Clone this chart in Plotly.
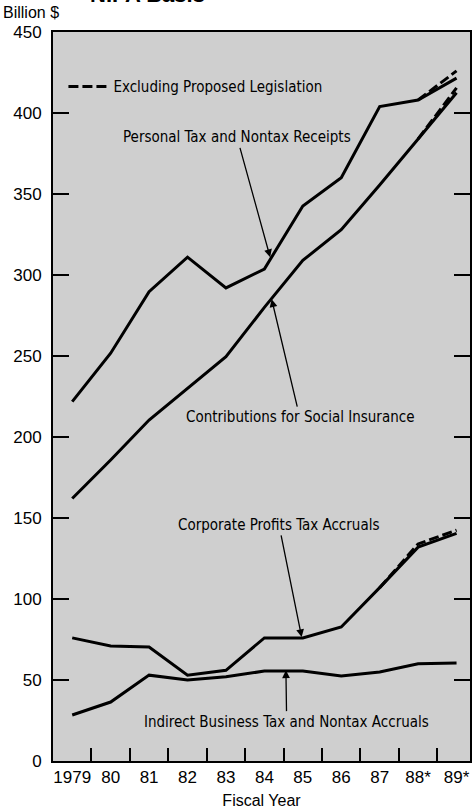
import plotly.graph_objects as go

# ---- data (Billion $) ----
years = [1979, 1980, 1981, 1982, 1983, 1984, 1985, 1986, 1987, 1988, 1989]
year_labels = ["1979", "80", "81", "82", "83", "84", "85", "86", "87", "88*", "89*"]
personal = [221.8, 251.7, 289.7, 311.0, 292.0, 303.7, 342.6, 360.0, 404.0, 408.0, 421.5]
social = [162.0, 185.8, 210.5, 230.0, 249.6, 280.0, 309.0, 328.0, 355.6, 384.0, 412.5]
corporate = [76.0, 71.0, 70.4, 53.0, 56.0, 76.0, 76.0, 82.7, 107.0, 132.0, 140.5]
indirect = [28.4, 36.4, 53.0, 50.0, 52.0, 55.5, 55.5, 52.5, 55.0, 60.0, 60.5]

excl_years = [1988, 1989]
personal_excl = [408.0, 426.0]
social_excl = [384.0, 415.5]
corp_excl_years = [1987, 1988, 1989]
corporate_excl = [107.0, 134.0, 142.5]

y_ticks = [0, 50, 100, 150, 200, 250, 300, 350, 400, 450]
minor_ticks = [1979.5, 1980.5, 1981.5, 1982.5, 1983.5, 1984.5, 1985.5, 1986.5, 1987.5, 1988.5]

NARROW = "Liberation Sans Narrow, Arial Narrow, DejaVu Sans Condensed, sans-serif"
REG = "Liberation Sans, Arial, Helvetica, sans-serif"

fig = go.Figure()
solid = dict(color="black", width=3)
for name, vals in [("Personal Tax and Nontax Receipts", personal),
                   ("Contributions for Social Insurance", social),
                   ("Corporate Profits Tax Accruals", corporate),
                   ("Indirect Business Tax and Nontax Accruals", indirect)]:
    fig.add_trace(go.Scatter(x=years, y=vals, mode="lines", line=solid,
                             name=name, showlegend=False))

dashed = dict(color="black", width=3, dash="10px,4px")
fig.add_trace(go.Scatter(x=excl_years, y=personal_excl, mode="lines", line=dashed,
                         name="Excluding Proposed Legislation", showlegend=True))
fig.add_trace(go.Scatter(x=excl_years, y=social_excl, mode="lines", line=dashed,
                         showlegend=False))
fig.add_trace(go.Scatter(x=corp_excl_years, y=corporate_excl, mode="lines", line=dashed,
                         showlegend=False))

ann_font = dict(family=NARROW, size=15, color="black")
arrow = dict(showarrow=True, arrowhead=2, arrowsize=1.2, arrowwidth=1.3,
             arrowcolor="black", axref="x", ayref="y", xref="x", yref="y",
             font=ann_font)
fig.add_annotation(text="Personal Tax and Nontax Receipts", x=1984.15, y=311,
                   ax=1983.29, ay=385, **arrow)
fig.add_annotation(text="Contributions for Social Insurance", x=1984.19, y=285,
                   ax=1984.92, ay=212.3, **arrow)
fig.add_annotation(text="Corporate Profits Tax Accruals", x=1984.97, y=76.5,
                   ax=1984.38, ay=145.7, **arrow)
fig.add_annotation(text="Indirect Business Tax and Nontax Accruals", x=1984.56, y=56,
                   ax=1984.58, ay=24.3, **arrow)

fig.add_annotation(text="Billion $", xref="paper", yref="paper", x=-0.124, y=1.027,
                   xanchor="left", yanchor="middle", showarrow=False,
                   font=dict(family=REG, size=16, color="black"))
fig.add_annotation(text="<b>NIPA Basis</b>", xref="paper", yref="paper", x=0.085, y=1.0316,
                   xanchor="left", yanchor="bottom", showarrow=False,
                   font=dict(family=REG, size=22, color="black"))

fig.update_layout(
    width=474, height=810,
    margin=dict(l=53, r=4, t=32, b=49, autoexpand=False),
    paper_bgcolor="white", plot_bgcolor="#cfcfcf",
    font=dict(family=REG, size=17, color="black"),
    showlegend=True,
    legend=dict(x=0.025, y=0.925, xanchor="left", yanchor="middle",
                bgcolor="rgba(0,0,0,0)", font=dict(family=NARROW, size=15),
                itemwidth=40),
)
fig.update_xaxes(
    range=[1978.5, 1989.35], tickmode="array", tickvals=years, ticktext=year_labels,
    ticks="", showgrid=False, zeroline=False, automargin=False,
    showline=True, linecolor="black", linewidth=2, mirror=True,
    tickfont=dict(family=REG, size=17),
    minor=dict(tickmode="array", tickvals=minor_ticks, ticks="inside",
               ticklen=13, tickwidth=2, tickcolor="black", showgrid=False),
    title=dict(text="Fiscal Year", font=dict(family=REG, size=16), standoff=8),
)
fig.update_yaxes(
    range=[0, 450], tickmode="array", tickvals=y_ticks,
    ticks="inside", ticklen=16, tickwidth=2, tickcolor="black",
    showgrid=False, zeroline=False, automargin=False,
    showline=True, linecolor="black", linewidth=2, mirror="allticks",
    tickfont=dict(family=REG, size=17), ticklabelstandoff=6,
)

fig.write_html("out.html", config={"displayModeBar": False},
               post_script="document.body.style.margin='0';")
